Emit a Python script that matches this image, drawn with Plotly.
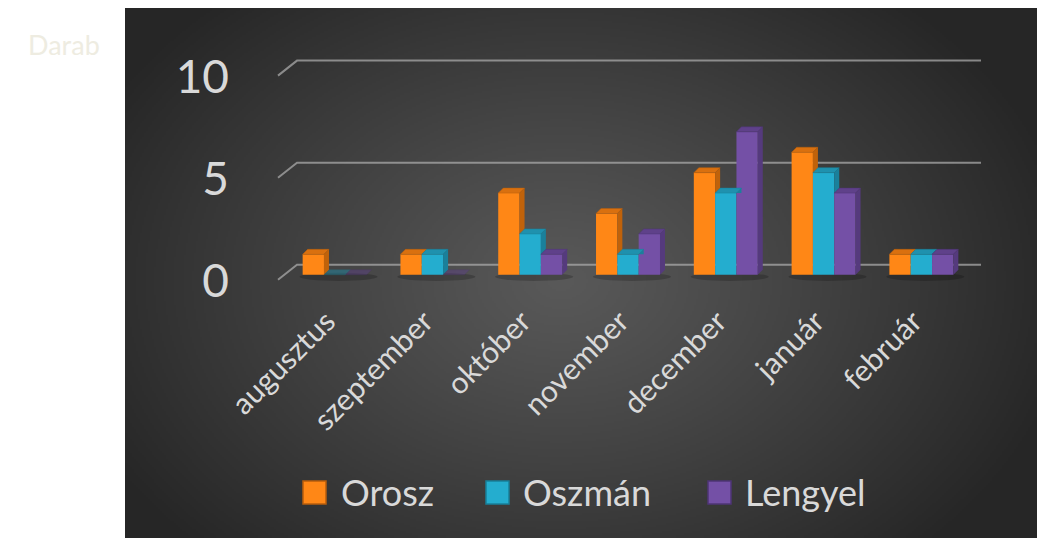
import plotly.graph_objects as go
import numpy as np
import zlib, struct, base64

# ---------------- data ----------------
categories = ["augusztus", "szeptember", "október", "november", "december", "január", "február"]
orosz = [1, 1, 4, 3, 5, 6, 1]
oszman = [0, 1, 2, 1, 4, 5, 1]
lengyel = [0, 0, 1, 2, 7, 4, 1]
series_names = ["Orosz", "Oszmán", "Lengyel"]
y_ticks = [0, 5, 10]
y_title = "Darab"

# ---------------- styling ----------------
W, H = 1037, 538
L, R, T, B = 274, 55, 40, 251
XR = [-0.62, 6.62]
YR = [-0.6, 11.5]
PW, PH = W - L - R, H - T - B
XS = PW / (XR[1] - XR[0])   # px per x unit
YS = PH / (YR[1] - YR[0])   # px per y unit

front_cols = ["#FF8716", "#24ADCF", "#7450A6"]
top_cols = ["#D9700F", "#1F91AE", "#5F418A"]
side_cols = ["#C0620A", "#1A809B", "#553A7D"]
edge_cols = ["#B85E0C", "#17809A", "#4E3476"]
FONT = "Lato"
TXT = "#D9D9D9"

BARGAP = 0.346
NS = 3
BW = (1 - BARGAP) / NS
DX = 5 / XS
DY = 5 / YS


def ppx(p):
    return (p - L) / PW


def ppy(p):
    return (H - B - p) / PH


# ---------------- background gradient image ----------------
def make_png(arr):
    h, w, _ = arr.shape
    raw = b"".join(b"\x00" + arr[r].tobytes() for r in range(h))

    def chunk(t, d):
        c = struct.pack(">I", len(d)) + t + d
        return c + struct.pack(">I", zlib.crc32(t + d) & 0xFFFFFFFF)

    return (b"\x89PNG\r\n\x1a\n" + chunk(b"IHDR", struct.pack(">IIBBBBB", w, h, 8, 2, 0, 0, 0))
            + chunk(b"IDAT", zlib.compress(raw, 9)) + chunk(b"IEND", b""))


PX0, PY0, PX1, PY1 = 125, 8, 1037, 538
gw, gh = (PX1 - PX0) // 2, (PY1 - PY0) // 2
yy, xx = np.mgrid[0:gh, 0:gw]
px = PX0 + xx * 2
py = PY0 + yy * 2
d = np.sqrt(((px - 560) / 520.0) ** 2 + ((py - 280) / 380.0) ** 2)
d = np.clip(d, 0, 1) ** 1.1
c = (89 - 51 * d).astype(np.uint8)
img = np.stack([c, c, c], axis=-1)
src = "data:image/png;base64," + base64.b64encode(make_png(img)).decode()

# ---------------- figure ----------------
fig = go.Figure()
series = [orosz, oszman, lengyel]
xs = list(range(len(categories)))
for k, (name, vals) in enumerate(zip(series_names, series)):
    fig.add_trace(go.Bar(
        x=xs, y=vals, name=name,
        marker=dict(color=front_cols[k], line=dict(width=0)),
        showlegend=False, hoverinfo="x+y+name",
    ))

shapes = []
# gridlines with perspective
for v in y_ticks:
    y_front = v - 5 / YS
    y_back = v + 10 / YS
    x_front = (278 - L) / XS + XR[0]
    x_back = (297 - L) / XS + XR[0]
    x_end = (981 - L) / XS + XR[0]
    shapes.append(dict(
        type="path", xref="x", yref="y", layer="below",
        path=f"M{x_front},{y_front} L{x_back},{y_back} L{x_end},{y_back}",
        line=dict(color="rgba(170,170,170,0.75)", width=2),
    ))
# floor shadows under each group
for i in xs:
    shapes.append(dict(
        type="circle", xref="x", yref="y", layer="below",
        x0=i - 0.36, x1=i + 0.44, y0=-0.3, y1=0.1,
        fillcolor="rgba(0,0,0,0.2)", line=dict(width=0),
    ))
# 3D top and side faces
for i in xs:
    for k in range(NS):
        v = series[k][i]
        x0 = i - (1 - BARGAP) / 2 + k * BW
        x1 = x0 + BW
        op = 1.0 if v > 0 else 0.45
        shapes.append(dict(
            type="path", xref="x", yref="y", layer="above", opacity=op,
            path=f"M{x0},{v} L{x1},{v} L{x1 + DX},{v + DY} L{x0 + DX},{v + DY} Z",
            fillcolor=top_cols[k], line=dict(color=edge_cols[k], width=0.5),
        ))
        if v > 0:
            vn = series[k + 1][i] if k + 1 < NS else 0
            lo = min(max(vn, 0), v)
            shapes.append(dict(
                type="path", xref="x", yref="y", layer="above",
                path=f"M{x1},{lo} L{x1},{v} L{x1 + DX},{v + DY} L{x1 + DX},{max(DY, lo)} Z",
                fillcolor=side_cols[k], line=dict(width=0),
            ))

# manual legend
leg_marks = [303, 486, 708]
leg_text = [339, 521, 743]
annotations = []
for k in range(NS):
    shapes.append(dict(
        type="rect", xref="paper", yref="paper",
        x0=ppx(leg_marks[k]), x1=ppx(leg_marks[k] + 23),
        y0=ppy(504), y1=ppy(481),
        fillcolor=front_cols[k], line=dict(color=edge_cols[k], width=1.5),
    ))
    annotations.append(dict(
        xref="paper", yref="paper", x=ppx(leg_text[k]), y=ppy(492),
        xanchor="left", yanchor="middle", showarrow=False,
        text=series_names[k], font=dict(family=FONT, size=36, color=TXT),
    ))
annotations.append(dict(
    xref="paper", yref="paper", x=ppx(26), y=ppy(45),
    xanchor="left", yanchor="middle", showarrow=False,
    text=y_title, font=dict(family=FONT, size=27, color="#EEECE1"),
))

fig.update_layout(
    width=W, height=H,
    margin=dict(l=L, r=R, t=T, b=B, pad=0),
    paper_bgcolor="white", plot_bgcolor="rgba(0,0,0,0)",
    barmode="group", bargap=BARGAP, bargroupgap=0,
    showlegend=False,
    shapes=shapes, annotations=annotations,
    images=[dict(source=src, xref="paper", yref="paper",
                 x=ppx(PX0), y=ppy(PY0), sizex=ppx(PX1) - ppx(PX0), sizey=ppy(PY0) - ppy(PY1),
                 sizing="stretch", layer="below", xanchor="left", yanchor="top")],
    font=dict(family=FONT, color=TXT),
)
fig.update_xaxes(
    range=XR, tickmode="array", tickvals=xs, ticktext=categories,
    tickangle=-45, tickfont=dict(family=FONT, size=30, color=TXT),
    showgrid=False, zeroline=False, showline=False, ticks="",
    ticklabelstandoff=10, ticklabelshift=-8,
)
fig.update_yaxes(
    range=YR, tickmode="array", tickvals=y_ticks,
    tickfont=dict(family=FONT, size=46, color=TXT),
    showgrid=False, zeroline=False, showline=False, ticks="",
    ticklabelstandoff=44, ticklabelshift=6,
)

fig.write_html("out.html", config={"displayModeBar": False},
               post_script="document.body.style.margin='0';")
